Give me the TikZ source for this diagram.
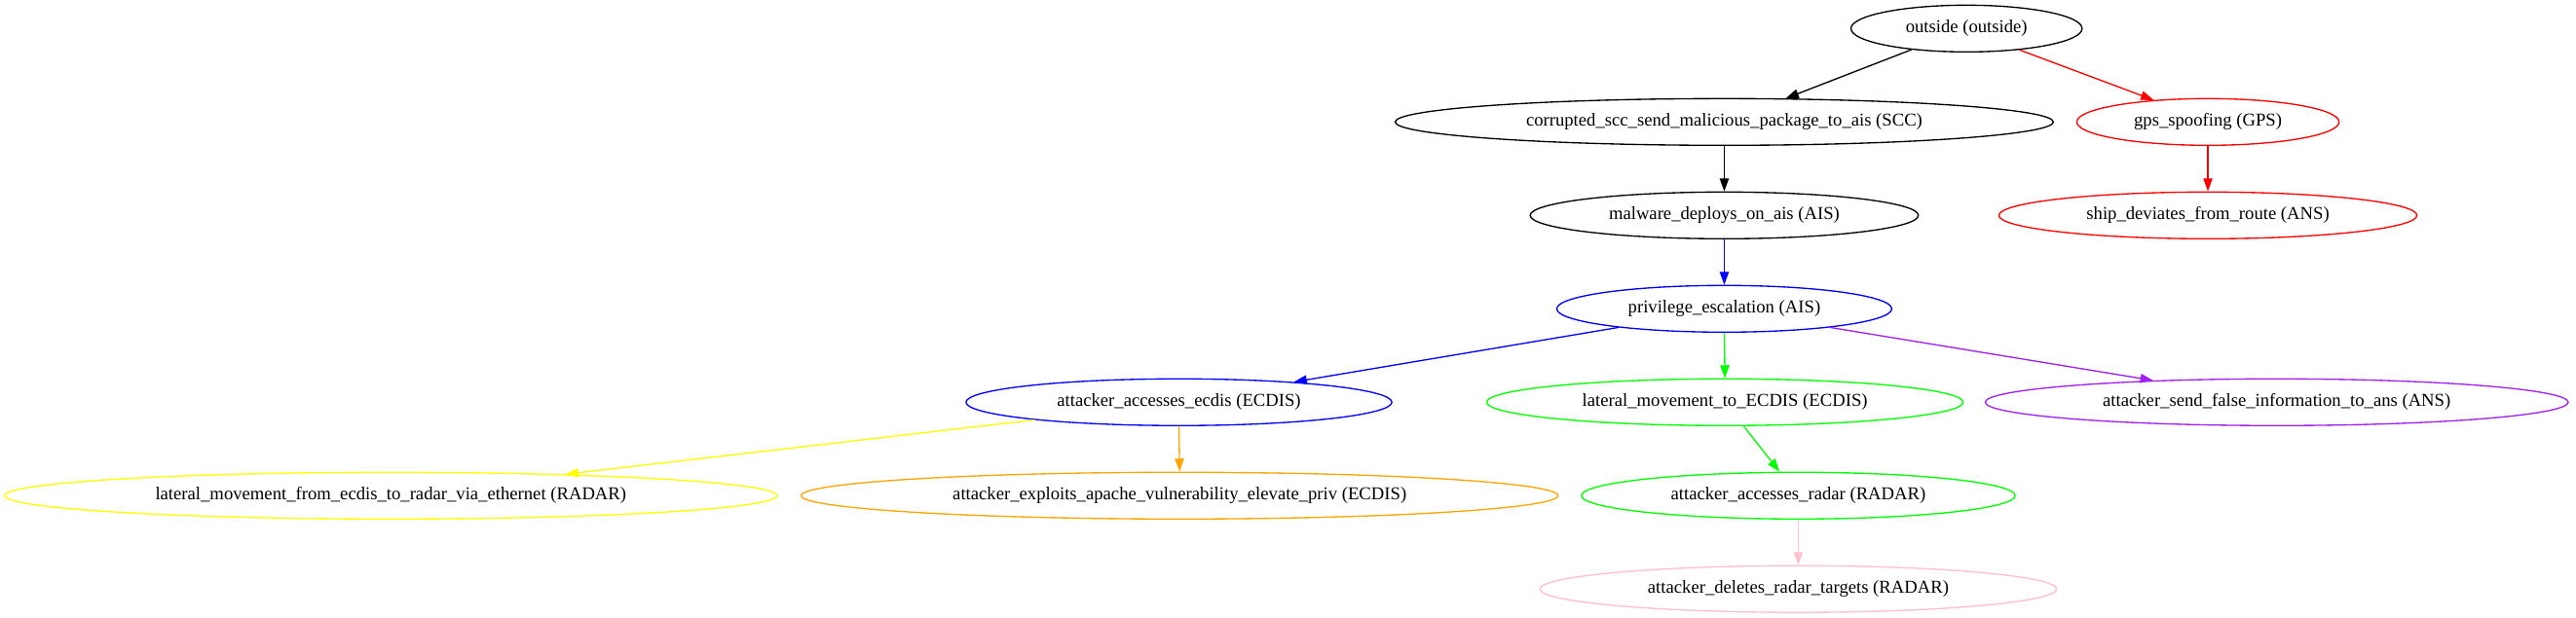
\documentclass[tikz,border=0pt]{standalone}
\usepackage{fontspec}
\setmainfont{Liberation Serif}
\usetikzlibrary{shapes.geometric,arrows.meta}
\definecolor{gvgreen}{HTML}{00FF00}
\definecolor{gvpurple}{HTML}{A020F0}
\definecolor{gvorange}{HTML}{FFA500}
\definecolor{gvpink}{HTML}{FFC0CB}
\definecolor{gvyellow}{HTML}{FFFF00}
\definecolor{gvblue}{HTML}{0000FF}
\definecolor{gvred}{HTML}{FF0000}
\tikzset{
  gvnode/.style={ellipse, draw=#1, line width=1pt, inner sep=0pt, minimum height=36pt,
    text=black, font=\fontsize{14}{16.8}\selectfont},
  gvedge/.style={draw=#1, line width=1pt, -{Triangle[length=10pt,width=7pt,fill=#1]}}
}
\begin{document}
\begin{tikzpicture}[x=1pt,y=1pt]
\useasboundingbox (0,0) rectangle (1984,476);
% rank y: 454 - 72 r
\node[gvnode=black, minimum width=178pt] (outside) at (1514.6,454) {outside (outside)};
\node[gvnode=black, minimum width=507pt] (scc) at (1328,382) {corrupted\_scc\_send\_malicious\_package\_to\_ais (SCC)};
\node[gvnode=gvred, minimum width=202pt] (gps) at (1700.5,382) {gps\_spoofing (GPS)};
\node[gvnode=black, minimum width=299pt] (malware) at (1328,310) {malware\_deploys\_on\_ais (AIS)};
\node[gvnode=gvred, minimum width=322pt] (ship) at (1700.5,310) {ship\_deviates\_from\_route (ANS)};
\node[gvnode=gvblue, minimum width=258pt] (priv) at (1328,238) {privilege\_escalation (AIS)};
\node[gvnode=gvblue, minimum width=328pt] (ecdis) at (908,166) {attacker\_accesses\_ecdis (ECDIS)};
\node[gvnode=gvgreen, minimum width=367pt] (latto) at (1328.5,166) {lateral\_movement\_to\_ECDIS (ECDIS)};
\node[gvnode=gvpurple, minimum width=449pt] (sendf) at (1753.5,166) {attacker\_send\_false\_information\_to\_ans (ANS)};
\node[gvnode=gvyellow, minimum width=595pt] (latfrom) at (301,94) {lateral\_movement\_from\_ecdis\_to\_radar\_via\_ethernet (RADAR)};
\node[gvnode=gvorange, minimum width=583pt] (exploits) at (908.5,94) {attacker\_exploits\_apache\_vulnerability\_elevate\_priv (ECDIS)};
\node[gvnode=gvgreen, minimum width=334pt] (accradar) at (1385,94) {attacker\_accesses\_radar (RADAR)};
\node[gvnode=gvpink, minimum width=398pt] (deletes) at (1385,22) {attacker\_deletes\_radar\_targets (RADAR)};

\draw[gvedge=black] (outside.201.8) -- (scc.21.8);
\draw[gvedge=gvred] (outside.338.7) -- (gps.158);
\draw[gvedge=black] (scc.south) -- (malware.north);
\draw[gvedge=gvred] (gps.south) -- (ship.north);
\draw[gvedge=gvblue] (malware.south) -- (priv.north);
\draw[gvedge=gvblue] (priv.190.3) -- (ecdis.10.3);
\draw[gvedge=gvgreen] (priv.south) -- (latto.north);
\draw[gvedge=gvpurple] (priv.350.2) -- (sendf.170.3);
\draw[gvedge=gvyellow] (ecdis.187.2) -- (latfrom.7.2);
\draw[gvedge=gvorange] (ecdis.south) -- (exploits.north);
\draw[gvedge=gvgreen] (latto.308.2) -- (accradar.128.4);
\draw[gvedge=gvpink] (accradar.south) -- (deletes.north);
\end{tikzpicture}
\end{document}
